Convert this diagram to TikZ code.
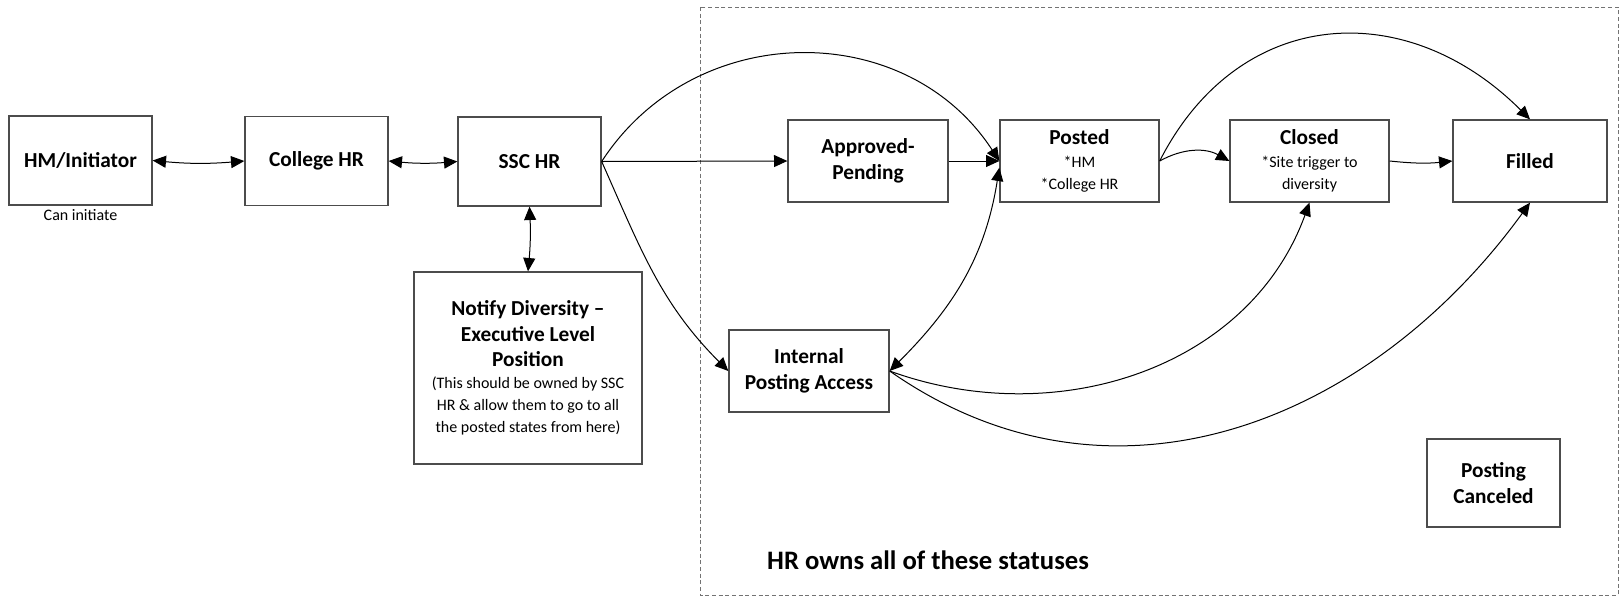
\documentclass[tikz,border=0pt]{standalone}
\usepackage{fontspec}
\setmainfont{Carlito}
\usetikzlibrary{arrows.meta}
\newcommand\ttl{\bfseries\fontsize{16}{19}\selectfont}
\begin{document}
\begin{tikzpicture}[x=0.75pt,y=-0.75pt,
  box/.style={draw=black!70, line width=1pt, fill=white, inner sep=0pt, align=center},
  tbox/.style={box, font=\bfseries\fontsize{16}{19.5}\selectfont},
  sbox/.style={box, font=\fontsize{12}{17}\selectfont},
  >={Triangle[length=10pt,width=9pt]},
  conn/.style={->, line width=0.75pt},
  dconn/.style={<->, line width=0.75pt},
  hrframe/.style={draw=black!55, line width=0.75pt, dash pattern=on 3pt off 2pt}
]
\useasboundingbox (0,0) rectangle (1620,597);
\draw[hrframe] (700,7) rectangle (1618,595);

\node[tbox, minimum width=107.25pt, minimum height=66.75pt] (hm) at (80.5,160.5) {HM/Initiator};
\node[font=\fontsize{12}{14}\selectfont, inner sep=0pt] (caninit) at (80.5,215) {Can initiate};
\node[tbox, minimum width=107.25pt, minimum height=66.5pt] (chr) at (316.5,161) {College HR};
\node[tbox, minimum width=107.25pt, minimum height=66.75pt] (ssc) at (529.5,161.5) {SSC HR};
\node[box, font=\fontsize{12}{19}\selectfont, minimum width=171pt, minimum height=144pt] (notify) at (528,368)
  {\ttl Notify Diversity –\\\ttl Executive Level\\\ttl Position\\[-2.5pt](This should be owned by SSC\\[-2.5pt]HR \& allow them to go to all\\[-2.5pt]the posted states from here)};

\node[tbox, minimum width=120pt, minimum height=61.5pt] (appr) at (868,161) {Approved-\\Pending};
\node[sbox, minimum width=119.25pt, minimum height=61.5pt] (posted) at (1079.5,161) {\ttl Posted\\*HM\\*College HR};
\node[sbox, minimum width=119.25pt, minimum height=61.5pt] (closed) at (1309.5,161) {\ttl Closed\\*Site trigger to\\diversity};
\node[tbox, minimum width=115.5pt, minimum height=61.5pt] (filled) at (1530,161) {Filled};
\node[tbox, minimum width=120pt, minimum height=61.5pt] (internal) at (809,371) {Internal\\Posting Access};
\node[tbox, minimum width=99.75pt, minimum height=66pt] (canceled) at (1493.5,483) {Posting\\Canceled};

\node[font=\bfseries\fontsize{20}{24}\selectfont, inner sep=0pt] (hrlabel) at (928,560) {HR owns all of these statuses};

\draw[dconn] (hm.east) to[bend right=5] (chr.west);
\draw[dconn] (chr.east) to[bend right=5] (ssc.west);
\draw[dconn] (ssc.south) to[bend left=4] (notify.north);
\draw[conn] (ssc.east) -- (appr.west);
\draw[conn] (ssc.east) to[out=57,in=123,looseness=1.1] (posted.west);
\draw[conn] (ssc.east) to[out=-66,in=135] (internal.west);
\draw[conn] (appr.east) -- (posted.west);
\draw[dconn] ([yshift=-5pt]posted.west) to[out=-99,in=45] (internal.east);
\draw[conn] (posted.east) to[bend left=29] (closed.west);
\draw[conn] (posted.east) to[out=63,in=135,looseness=1.2] (filled.north);
\draw[conn] (closed.east) to[bend right=6] (filled.west);
\draw[conn] (internal.east) to[out=-20,in=-110] (closed.south);
\draw[conn] (internal.east) to[out=-35,in=-126,looseness=1.05] (filled.south);
\end{tikzpicture}
\end{document}
